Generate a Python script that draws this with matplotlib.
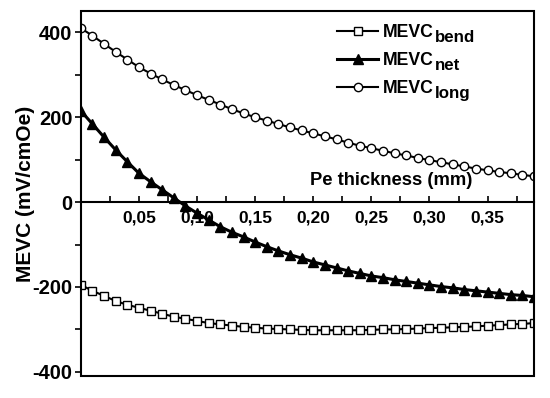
import numpy as np
import matplotlib
matplotlib.use('Agg')
import matplotlib.pyplot as plt
from matplotlib.ticker import MultipleLocator, FuncFormatter
from matplotlib.patches import Rectangle
from matplotlib.transforms import offset_copy

plt.rcParams['font.family'] = ['Liberation Sans', 'DejaVu Sans']
plt.rcParams['font.weight'] = 'bold'
plt.rcParams['axes.unicode_minus'] = False

# thickness (mm), one point every 0.01
thickness = [i / 100 for i in range(40)]

mevc_long = [410, 392, 373, 354, 336, 318, 303, 289, 276, 264,
             252, 241, 230, 219, 209, 200, 192, 184, 176, 169,
             162, 155, 148, 140, 133, 127, 121, 115, 110, 104,
             99, 94, 89, 84, 79, 75, 71, 68, 64, 61]

mevc_net = [215, 184, 153, 123, 95, 68, 48, 29, 10, -9,
            -26, -42, -58, -71, -82, -94, -105, -115, -124, -132,
            -141, -148, -155, -162, -168, -174, -178, -183, -187, -191,
            -195, -199, -202, -206, -209, -212, -215, -218, -220, -223]

mevc_bend = [-195, -209, -221, -233, -242, -249, -256, -263, -270, -275,
             -280, -285, -288, -291, -294, -296, -298, -299, -300, -301,
             -302, -302, -302, -302, -302, -301, -300, -300, -299, -298,
             -297, -296, -295, -294, -293, -291, -290, -288, -287, -285]

subscripts = ['bend', 'net', 'long']

fig = plt.figure(figsize=(5.5, 3.98), dpi=100)
ax = fig.add_axes([0.147, 0.055, 0.824, 0.917])

ax.plot(thickness, mevc_bend, color='black', lw=1.5, marker='s', ms=5.5,
        mfc='white', mec='black', mew=1, label='MEVC')
ax.plot(thickness, mevc_net, color='black', lw=2.2, marker='^', ms=6.5,
        mfc='black', mec='black', label='MEVC')
ax.plot(thickness, mevc_long, color='black', lw=1.5, marker='o', ms=6,
        mfc='white', mec='black', mew=1, label='MEVC')

ax.set_xlim(0, 0.39)
ax.set_ylim(-410, 450)

# x axis drawn through zero, frame around the whole plot
ax.spines['bottom'].set_position(('data', 0))
ax.spines['bottom'].set_linewidth(1.5)
for s in ['top', 'right', 'left']:
    ax.spines[s].set_visible(False)
ax.add_patch(Rectangle((0, 0), 1, 1, transform=ax.transAxes, fill=False,
                       lw=1.5, ec='black', clip_on=False, zorder=5))

ax.xaxis.set_major_locator(MultipleLocator(0.05))
ax.xaxis.set_minor_locator(MultipleLocator(0.025))
ax.xaxis.set_major_formatter(FuncFormatter(
    lambda v, p: '' if abs(v) < 1e-9 else f'{v:.2f}'.replace('.', ',')))
ax.tick_params(axis='x', which='both', direction='in', length=4, width=1.2,
               labelsize=12.5, pad=6)

ax.yaxis.set_major_locator(MultipleLocator(200))
ax.yaxis.set_minor_locator(MultipleLocator(100))
ax.tick_params(axis='y', which='both', direction='out', length=4, width=1.2,
               labelsize=14.5, pad=2)

ax.set_ylabel('MEVC (mV/cmOe)', fontsize=15, fontweight='bold', labelpad=-2)
ax.text(0.267, 50, 'Pe thickness (mm)', fontsize=13.2, fontweight='bold',
        ha='center', va='center')

leg = ax.legend(loc='upper left', bbox_to_anchor=(0.566, 0.965), frameon=False,
                fontsize=12.7, handlelength=2.3, handletextpad=0.3,
                labelspacing=0.62, borderpad=0, borderaxespad=0)

# near full-size, lowered subscripts after each legend label
fig.canvas.draw()
renderer = fig.canvas.get_renderer()
inv = fig.transFigure.inverted()
for t, sub in zip(leg.get_texts(), subscripts):
    bb = t.get_window_extent(renderer)
    x, y = inv.transform((bb.x1 + 1, bb.y0))
    fig.text(x, y, sub, fontsize=12.2, fontweight='bold', va='bottom', ha='left',
             transform=offset_copy(fig.transFigure, fig=fig, y=-4.5, units='dots'))

fig.savefig('out.png', dpi=100)
